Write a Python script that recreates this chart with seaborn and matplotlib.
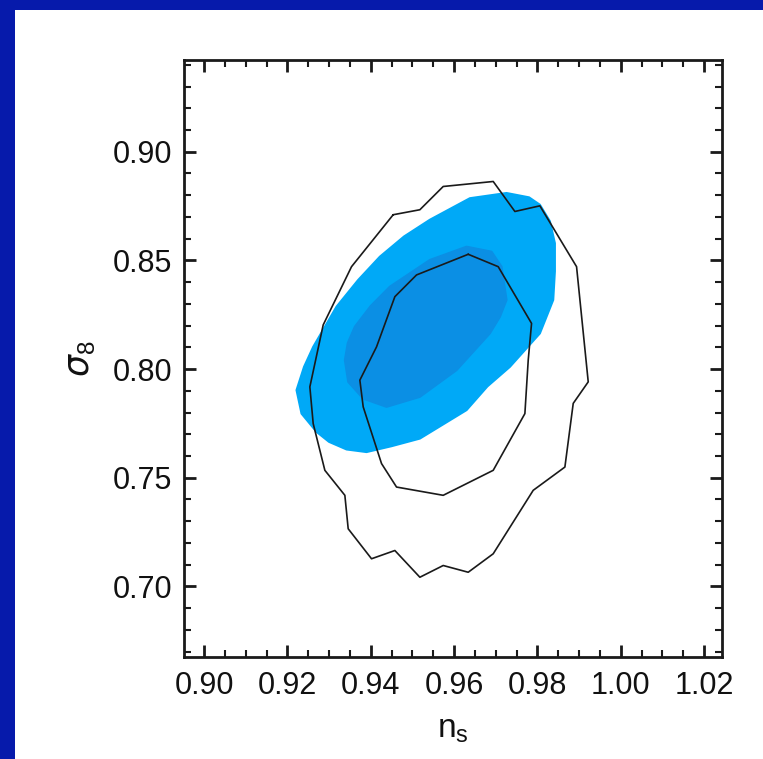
import numpy as np
import pandas as pd
import matplotlib
matplotlib.use("Agg")
import matplotlib.pyplot as plt
from matplotlib.ticker import MultipleLocator, FormatStrFormatter
from matplotlib.patches import Rectangle
import seaborn as sns

# ---- data (n_s, sigma_8) ----
outer_fill_ns = [0.9222, 0.9240, 0.9262, 0.9318, 0.9370, 0.9422, 0.9480, 0.9542, 0.9638, 0.9726,
                 0.9780, 0.9806, 0.9830, 0.9842, 0.9842, 0.9838, 0.9806, 0.9734, 0.9680,
                 0.9630, 0.9518, 0.9450, 0.9390, 0.9342, 0.9300, 0.9270, 0.9234]
outer_fill_s8 = [0.7903, 0.8010, 0.8102, 0.8287, 0.8410, 0.8517, 0.8610, 0.8687, 0.8786, 0.8810,
                 0.8790, 0.8756, 0.8680, 0.8579, 0.8450, 0.8318, 0.8164, 0.8010, 0.7920,
                 0.7811, 0.7680, 0.7645, 0.7618, 0.7630, 0.7665, 0.7711, 0.7795]

inner_fill_ns = [0.9338, 0.9345, 0.9362, 0.9400, 0.9446, 0.9542, 0.9630, 0.9690, 0.9714, 0.9726,
                 0.9710, 0.9686, 0.9606, 0.9518, 0.9438, 0.9382, 0.9346]
inner_fill_s8 = [0.8041, 0.8120, 0.8195, 0.8290, 0.8379, 0.8502, 0.8563, 0.8540, 0.8471, 0.8318,
                 0.8240, 0.8164, 0.7995, 0.7872, 0.7826, 0.7864, 0.7941]

outer_line_ns = [0.9454, 0.9518, 0.9574, 0.9694, 0.9746, 0.9806, 0.9894, 0.9922, 0.9886,
                 0.9866, 0.9790, 0.9694, 0.9634, 0.9574, 0.9518, 0.9458, 0.9402, 0.9346,
                 0.9338, 0.9290, 0.9262, 0.9254, 0.9286, 0.9354]
outer_line_s8 = [0.8710, 0.8733, 0.8840, 0.8863, 0.8725, 0.8751, 0.8471, 0.7941, 0.7842,
                 0.7549, 0.7442, 0.7150, 0.7065, 0.7096, 0.7042, 0.7165, 0.7127, 0.7265,
                 0.7419, 0.7534, 0.7749, 0.7918, 0.8203, 0.8471]

inner_line_ns = [0.9634, 0.9706, 0.9786, 0.9778, 0.9770, 0.9694, 0.9574, 0.9462, 0.9426,
                 0.9382, 0.9374, 0.9414, 0.9458, 0.9510]
inner_line_s8 = [0.8528, 0.8471, 0.8210, 0.8041, 0.7795, 0.7534, 0.7419, 0.7457, 0.7565,
                 0.7826, 0.7949, 0.8102, 0.8333, 0.8433]

x_ticks = [0.90, 0.92, 0.94, 0.96, 0.98, 1.00, 1.02]
y_ticks = [0.70, 0.75, 0.80, 0.85, 0.90]

W, H = 763, 759
sns.set_theme(style="ticks")
plt.rcParams['font.family'] = ['Liberation Sans', 'DejaVu Sans']
plt.rcParams['mathtext.fontset'] = 'dejavusans'

fig = plt.figure(figsize=(W / 100, H / 100), dpi=100)
BLUE = '#061aab'
fig.patch.set_facecolor(BLUE)
bl, bt = 15, 10
fig.add_artist(Rectangle((bl / W, 0), 1 - bl / W, (H - bt) / H, transform=fig.transFigure,
                         facecolor='white', edgecolor='none', zorder=-5))

ax_l, ax_r, ax_t, ax_b = 184, 722, 60, 657
ax = fig.add_axes([ax_l / W, (H - ax_b) / H, (ax_r - ax_l) / W, (ax_b - ax_t) / H])
ax.set_facecolor('white')


def closed(a):
    return list(a) + [a[0]]


ax.fill(outer_fill_ns, outer_fill_s8, facecolor='#00a9f7', edgecolor='#00a9f7', lw=1.5,
        joinstyle='round', zorder=1)
ax.fill(inner_fill_ns, inner_fill_s8, facecolor='#0b8fe4', edgecolor='#0b8fe4', lw=1.5,
        joinstyle='round', zorder=2)

for xs, ys in [(outer_line_ns, outer_line_s8), (inner_line_ns, inner_line_s8)]:
    df = pd.DataFrame({'ns': closed(xs), 's8': closed(ys)})
    sns.lineplot(data=df, x='ns', y='s8', sort=False, estimator=None, color='#1a1a1a',
                 lw=1.2, ax=ax, zorder=3)

ax.set_xlim(0.8952, 1.0243)
ax.set_ylim(0.6675, 0.9422)
ax.set_xticks(x_ticks)
ax.set_yticks(y_ticks)
ax.xaxis.set_minor_locator(MultipleLocator(0.005))
ax.yaxis.set_minor_locator(MultipleLocator(0.01))
ax.xaxis.set_major_formatter(FormatStrFormatter('%.2f'))
ax.yaxis.set_major_formatter(FormatStrFormatter('%.2f'))

ax.tick_params(which='both', direction='in', top=True, right=True, color='#1a1a1a')
ax.tick_params(which='major', length=8.6, width=2.0, labelsize=22, labelcolor='#111111')
ax.tick_params(which='minor', length=4.7, width=1.5)
ax.tick_params(axis='x', which='major', pad=10)
ax.tick_params(axis='y', which='major', pad=8.5)
for s in ax.spines.values():
    s.set_linewidth(2.0)
    s.set_color('#1a1a1a')

ax.set_xlabel(r'$\mathregular{n_s}$', fontsize=24, color='#111111')
ax.set_ylabel(r'$\sigma_\mathregular{8}$', fontsize=25, color='#111111')
ax.xaxis.set_label_coords(0.5, -0.095)
ax.yaxis.set_label_coords(-0.162, 0.5)

fig.savefig('out.png', dpi=100, facecolor=fig.get_facecolor())
